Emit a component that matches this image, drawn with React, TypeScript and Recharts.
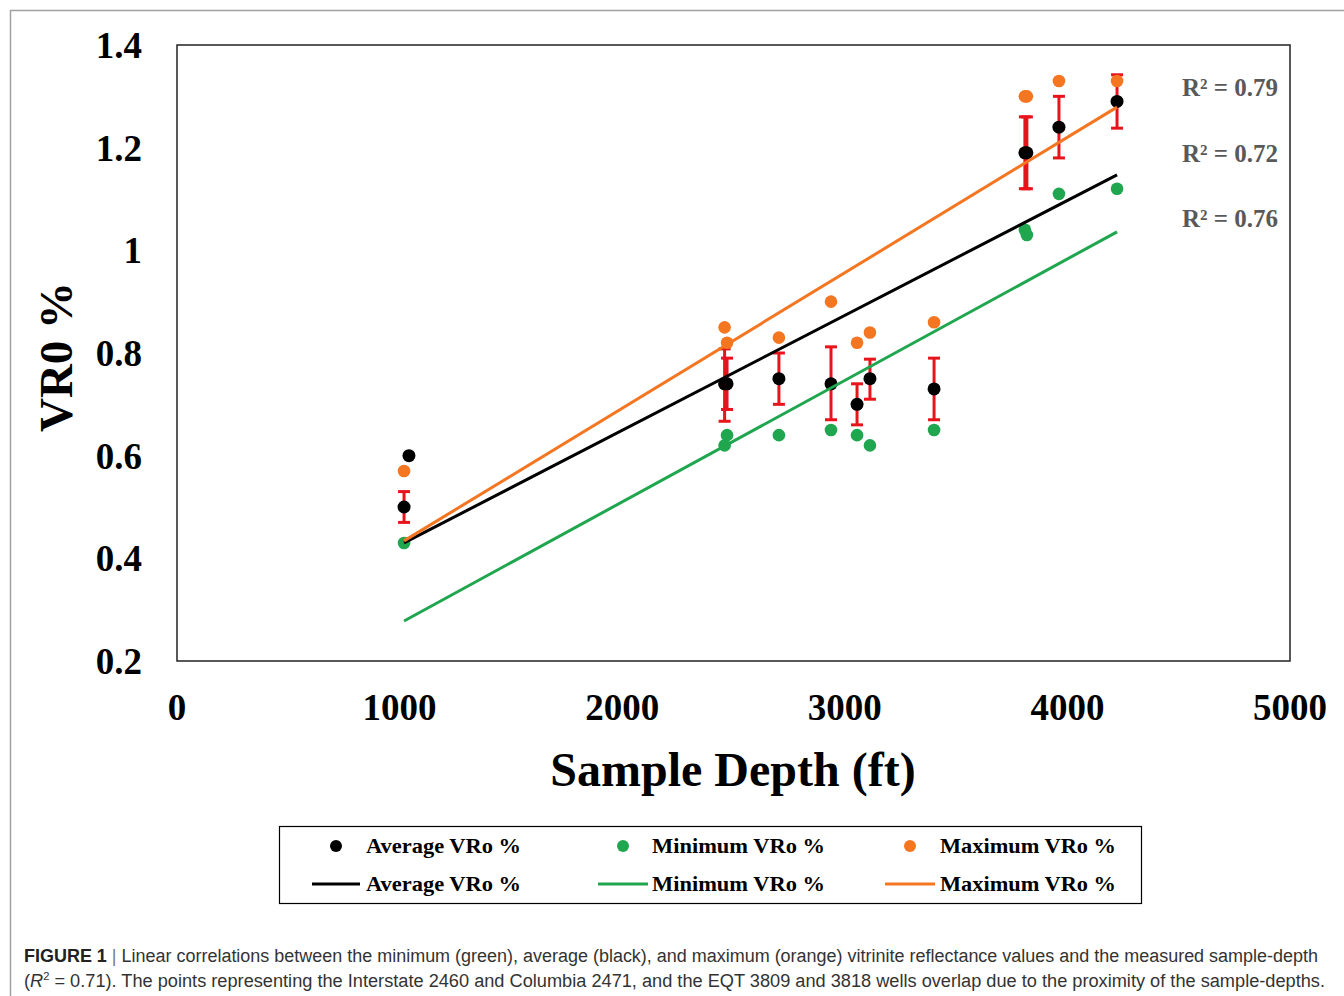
import React from 'react';
import { ComposedChart, Scatter, XAxis, YAxis, ErrorBar, ReferenceArea } from 'recharts';

// ---- data ----
const depthTicks = [0, 1000, 2000, 3000, 4000, 5000];
const vroTicks = [0.2, 0.4, 0.6, 0.8, 1, 1.2, 1.4];

const depths = [1020, 2460, 2471, 2704, 2938, 3055, 3113, 3401, 3809, 3818, 3962, 4223];
const avgVro = [0.5, 0.74, 0.74, 0.75, 0.74, 0.7, 0.75, 0.73, 1.19, 1.19, 1.24, 1.29];
const avgErrLow = [0.03, 0.073, 0.05, 0.05, 0.07, 0.04, 0.04, 0.06, 0.07, 0.07, 0.06, 0.052];
const avgErrHigh = [0.03, 0.068, 0.05, 0.05, 0.072, 0.04, 0.038, 0.06, 0.07, 0.07, 0.06, 0.052];
const minVro = [0.43, 0.62, 0.64, 0.64, 0.65, 0.64, 0.62, 0.65, 1.04, 1.03, 1.11, 1.12];
const maxVro = [0.57, 0.85, 0.82, 0.83, 0.9, 0.82, 0.84, 0.86, 1.3, 1.3, 1.33, 1.33];
const extraAvgDepths = [1042];
const extraAvgVro = [0.6];

const trendDepths = [1020, 4223];
const avgTrend = [0.43, 1.147];
const minTrend = [0.278, 1.036];
const maxTrend = [0.434, 1.279];

const rSquaredLabels = ['R² = 0.79', 'R² = 0.72', 'R² = 0.76'];
const legendLabels = ['Average VRo %', 'Minimum VRo %', 'Maximum VRo %'];

const BLACK = '#000000';
const GREEN = '#1fa64e';
const ORANGE = '#f47621';
const RED = '#e8141b';

const avgData = depths.map((x, i) => ({ x, y: avgVro[i], err: [avgErrLow[i], avgErrHigh[i]] }));
const minData = depths.map((x, i) => ({ x, y: minVro[i] }));
const maxData = depths.map((x, i) => ({ x, y: maxVro[i] }));
const extraAvgData = extraAvgDepths.map((x, i) => ({ x, y: extraAvgVro[i] }));
const mkTrend = (vals: number[]) => trendDepths.map((x, i) => ({ x, y: vals[i] }));

const dot = (color: string, r: number) => (props: any) =>
  <circle cx={props.cx} cy={props.cy} r={r} fill={color} />;
const noDot = () => <g />;

const serif = '"Liberation Serif", "Times New Roman", serif';
const sans = '"Liberation Sans", Arial, sans-serif';

export default function App() {
  const legendCols = [
    { dotX: 336, lineX1: 312, lineX2: 360, textX: 366, textLen: 155, color: BLACK },
    { dotX: 623, lineX1: 598, lineX2: 648, textX: 652, textLen: 173, color: GREEN },
    { dotX: 910, lineX1: 885, lineX2: 935, textX: 940, textLen: 176, color: ORANGE },
  ];
  const rY = [96, 162, 227];
  return (
    <div style={{ position: 'absolute', left: 0, top: 0, width: 1344, height: 996, background: '#fff' }}>
      <ComposedChart width={1344} height={996} margin={{ top: 45, right: 54, bottom: 275, left: 97 }}>
        <XAxis
          type="number"
          dataKey="x"
          domain={[0, 5000]}
          ticks={depthTicks}
          interval={0}
          height={60}
          axisLine={false}
          tickLine={false}
          tickSize={6}
          tickMargin={27}
          tick={{ fontFamily: serif, fontWeight: 'bold', fontSize: 37, fill: '#000' }}
        />
        <YAxis
          type="number"
          dataKey="y"
          domain={[0.2, 1.4]}
          ticks={vroTicks}
          interval={0}
          width={80}
          axisLine={false}
          tickLine={false}
          tickSize={6}
          tickMargin={29}
          tick={{ fontFamily: serif, fontWeight: 'bold', fontSize: 37, fill: '#000' }}
        />
        <ReferenceArea x1={0} x2={5000} y1={0.2} y2={1.4} fill="none" stroke="#222" strokeWidth={1.5} />
        <Scatter name="Minimum VRo %" data={minData} fill={GREEN} shape={dot(GREEN, 6.3)} isAnimationActive={false} />
        <Scatter name="Maximum VRo %" data={maxData} fill={ORANGE} shape={dot(ORANGE, 6.3)} isAnimationActive={false} />
        <Scatter name="Average VRo % extra" data={extraAvgData} fill={BLACK} shape={dot(BLACK, 6.5)} isAnimationActive={false} />
        <Scatter name="Average VRo %" data={avgData} fill={BLACK} shape={dot(BLACK, 6.5)} isAnimationActive={false}>
          <ErrorBar dataKey="err" direction="y" width={6} strokeWidth={3} stroke={RED} isAnimationActive={false} />
        </Scatter>
        <Scatter name="Minimum trend" data={mkTrend(minTrend)} line={{ stroke: GREEN, strokeWidth: 3 }} shape={noDot} isAnimationActive={false} />
        <Scatter name="Average trend" data={mkTrend(avgTrend)} line={{ stroke: BLACK, strokeWidth: 3 }} shape={noDot} isAnimationActive={false} />
        <Scatter name="Maximum trend" data={mkTrend(maxTrend)} line={{ stroke: ORANGE, strokeWidth: 3 }} shape={noDot} isAnimationActive={false} />
      </ComposedChart>
      <svg width={1344} height={996} style={{ position: 'absolute', left: 0, top: 0, pointerEvents: 'none' }}>
        <line x1={10} y1={10.5} x2={1344} y2={10.5} stroke="#a0a0a0" strokeWidth={1.5} />
        <line x1={10.5} y1={10} x2={10.5} y2={996} stroke="#a0a0a0" strokeWidth={1.5} />
        {rSquaredLabels.map((t, i) => (
          <text key={t} x={1278} y={rY[i]} textAnchor="end" fontFamily={serif} fontWeight="bold" fontSize={25} fill="#595959">{t}</text>
        ))}
        <text x={733} y={786} textAnchor="middle" fontFamily={serif} fontWeight="bold" fontSize={48} fill="#000">Sample Depth (ft)</text>
        <text x={72} y={357} transform="rotate(-90 72 357)" textAnchor="middle" fontFamily={serif} fontWeight="bold" fontSize={47} fill="#000">VR0 %</text>
        <rect x={279.5} y={826.5} width={862} height={77} fill="none" stroke="#000" strokeWidth={1.2} />
        {legendCols.map((c, i) => (
          <g key={i}>
            <circle cx={c.dotX} cy={846} r={6} fill={c.color} />
            <text x={c.textX} y={853} fontFamily={serif} fontWeight="bold" fontSize={22} fill="#000" textLength={c.textLen} lengthAdjust="spacingAndGlyphs">{legendLabels[i]}</text>
            <line x1={c.lineX1} y1={884} x2={c.lineX2} y2={884} stroke={c.color} strokeWidth={3} />
            <text x={c.textX} y={891} fontFamily={serif} fontWeight="bold" fontSize={22} fill="#000" textLength={c.textLen} lengthAdjust="spacingAndGlyphs">{legendLabels[i]}</text>
          </g>
        ))}
        <text x={24} y={962} fontFamily={sans} fontSize={18} fill="#333" textLength={1294} lengthAdjust="spacingAndGlyphs">
          <tspan fontWeight="bold" fill="#222">FIGURE 1</tspan>
          <tspan fill="#777"> | </tspan>
          <tspan>Linear correlations between the minimum (green), average (black), and maximum (orange) vitrinite reflectance values and the measured sample-depth</tspan>
        </text>
        <text x={24} y={987} fontFamily={sans} fontSize={18} fill="#333" textLength={1301} lengthAdjust="spacingAndGlyphs">
          <tspan>(</tspan>
          <tspan fontStyle="italic">R</tspan>
          <tspan fontSize={11} dy={-7}>2</tspan>
          <tspan dy={7}> = 0.71). The points representing the Interstate 2460 and Columbia 2471, and the EQT 3809 and 3818 wells overlap due to the proximity of the sample-depths.</tspan>
        </text>
      </svg>
    </div>
  );
}
